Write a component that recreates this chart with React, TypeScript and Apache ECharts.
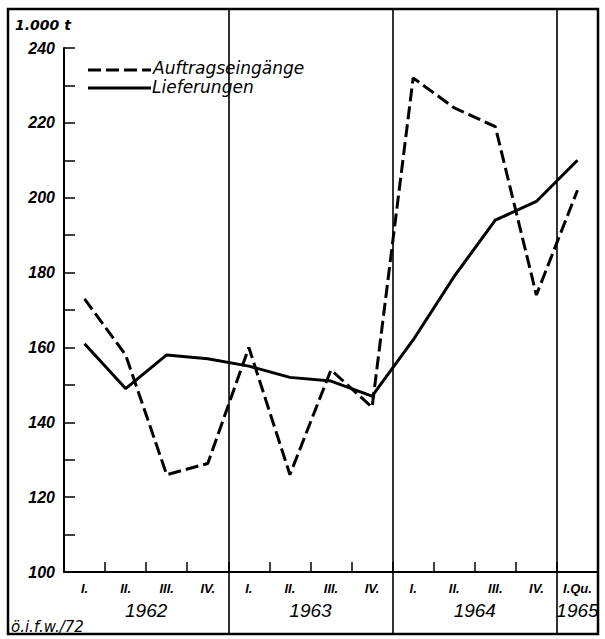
import React, { useEffect, useRef } from "react";
import * as echarts from "echarts";

// ---- data ----
const periods = [
  "1962 I", "1962 II", "1962 III", "1962 IV",
  "1963 I", "1963 II", "1963 III", "1963 IV",
  "1964 I", "1964 II", "1964 III", "1964 IV",
  "1965 I",
];
const quarterLabels = ["I.", "II.", "III.", "IV.", "I.", "II.", "III.", "IV.", "I.", "II.", "III.", "IV.", "I.Qu."];
const years = ["1962", "1963", "1964", "1965"];
const quartersPerYear = [4, 4, 4, 1];
const auftragseingaenge = [173, 158, 126, 129, 160, 126, 154, 144, 232, 224, 219, 174, 202];
const lieferungen = [161, 149, 158, 157, 155, 152, 151, 147, 162, 179, 194, 199, 210];
const yTicks = { min: 100, max: 240, interval: 20 };
const seriesNames = ["Auftragseingänge", "Lieferungen"];
const unitLabel = "1.000 t";
const sourceLabel = "ö.i.f.w./72";

const NARROW = "'Liberation Sans', Arial, sans-serif";
const WIDE = "'DejaVu Sans', 'Liberation Sans', sans-serif";

export default function App() {
  const ref = useRef<HTMLDivElement>(null);

  useEffect(() => {
    if (!ref.current) return;
    const chart = echarts.init(ref.current, null, { renderer: "svg" });

    // year label positions (centre of each year's quarters, in quarter units)
    const yearCenters: number[] = [];
    let acc = 0;
    quartersPerYear.forEach((n) => {
      yearCenters.push(acc + n / 2);
      acc += n;
    });
    const yearBoundaries: number[] = [];
    acc = 0;
    quartersPerYear.forEach((n, i) => {
      acc += n;
      if (i < quartersPerYear.length - 1) yearBoundaries.push(acc);
    });

    const option: any = {
      animation: false,
      backgroundColor: "#ffffff",
      grid: [
        { left: 64, right: 7, top: 48, bottom: 67 },
        { left: 64, right: 7, top: 9, bottom: 5 },
      ],
      xAxis: [
        {
          type: "category",
          gridIndex: 0,
          data: periods,
          boundaryGap: true,
          axisLine: { show: true, lineStyle: { color: "#000", width: 2 } },
          axisTick: { show: true, inside: true, length: 10, interval: 0, lineStyle: { color: "#000", width: 1.5 } },
          axisLabel: {
            interval: 0,
            margin: 10,
            color: "#000",
            fontFamily: NARROW,
            fontStyle: "italic",
            fontWeight: "bold",
            fontSize: 13,
            formatter: (_v: string, i: number) => quarterLabels[i],
          },
          splitLine: { show: false },
        },
        {
          type: "value",
          gridIndex: 0,
          min: 0,
          max: periods.length,
          interval: 0.5,
          position: "bottom",
          axisLine: { show: false },
          axisTick: { show: false },
          splitLine: { show: false },
          axisLabel: {
            margin: 29,
            color: "#000",
            fontFamily: NARROW,
            fontStyle: "italic",
            fontSize: 19,
            showMinLabel: true,
            showMaxLabel: true,
            formatter: (v: number) => {
              const idx = yearCenters.findIndex((c) => Math.abs(c - v) < 1e-6);
              return idx >= 0 ? years[idx] : "";
            },
          },
        },
        {
          type: "category",
          gridIndex: 1,
          data: periods,
          boundaryGap: true,
          axisLine: { show: false },
          axisTick: { show: false },
          axisLabel: { show: false },
          splitLine: {
            show: true,
            interval: (index: number) => yearBoundaries.indexOf(index) >= 0,
            lineStyle: { color: "#000", width: 1.6 },
          },
        },
      ],
      yAxis: [
        {
          type: "value",
          gridIndex: 0,
          min: yTicks.min,
          max: yTicks.max,
          interval: yTicks.interval,
          axisLine: { show: true, lineStyle: { color: "#000", width: 2 } },
          axisTick: { show: true, inside: true, length: 11, lineStyle: { color: "#000", width: 1.5 } },
          minorTick: { show: true, splitNumber: 2, length: 11, lineStyle: { color: "#000", width: 1.5 } },
          axisLabel: {
            margin: 9,
            color: "#000",
            fontFamily: NARROW,
            fontStyle: "italic",
            fontWeight: "bold",
            fontSize: 16,
          },
          splitLine: { show: false },
        },
        {
          type: "value",
          gridIndex: 1,
          min: 0,
          max: 1,
          show: false,
        },
      ],
      series: [
        {
          name: seriesNames[0],
          type: "line",
          xAxisIndex: 0,
          yAxisIndex: 0,
          data: auftragseingaenge,
          symbol: "none",
          lineStyle: { color: "#000", width: 3, type: [13, 5] },
        },
        {
          name: seriesNames[1],
          type: "line",
          xAxisIndex: 0,
          yAxisIndex: 0,
          data: lieferungen,
          symbol: "none",
          lineStyle: { color: "#000", width: 3 },
        },
      ],
      graphic: [
        {
          type: "rect",
          shape: { x: 8, y: 9, width: 590, height: 625 },
          style: { fill: "none", stroke: "#000", lineWidth: 2.5 },
          silent: true,
        },
        {
          type: "text",
          x: 15,
          y: 25,
          style: {
            text: unitLabel,
            fill: "#000",
            font: `italic bold 14px ${WIDE}`,
            verticalAlign: "middle",
          },
        },
        {
          type: "line",
          shape: { x1: 88, y1: 70, x2: 151, y2: 70 },
          style: { stroke: "#000", lineWidth: 3, lineDash: [13, 5] },
        },
        {
          type: "text",
          x: 153,
          y: 68,
          style: {
            text: seriesNames[0],
            fill: "#000",
            font: `italic 17px ${WIDE}`,
            verticalAlign: "middle",
          },
        },
        {
          type: "line",
          shape: { x1: 88, y1: 88, x2: 151, y2: 88 },
          style: { stroke: "#000", lineWidth: 3 },
        },
        {
          type: "text",
          x: 152,
          y: 87,
          style: {
            text: seriesNames[1],
            fill: "#000",
            font: `italic 17px ${WIDE}`,
            verticalAlign: "middle",
          },
        },
        {
          type: "text",
          x: 11,
          y: 627,
          style: {
            text: sourceLabel,
            fill: "#000",
            font: `italic 15px ${WIDE}`,
            verticalAlign: "middle",
          },
        },
      ],
    };

    chart.setOption(option);
    return () => chart.dispose();
  }, []);

  return (
    <div
      ref={ref}
      style={{ position: "absolute", left: 0, top: 0, width: 605, height: 639 }}
    />
  );
}
